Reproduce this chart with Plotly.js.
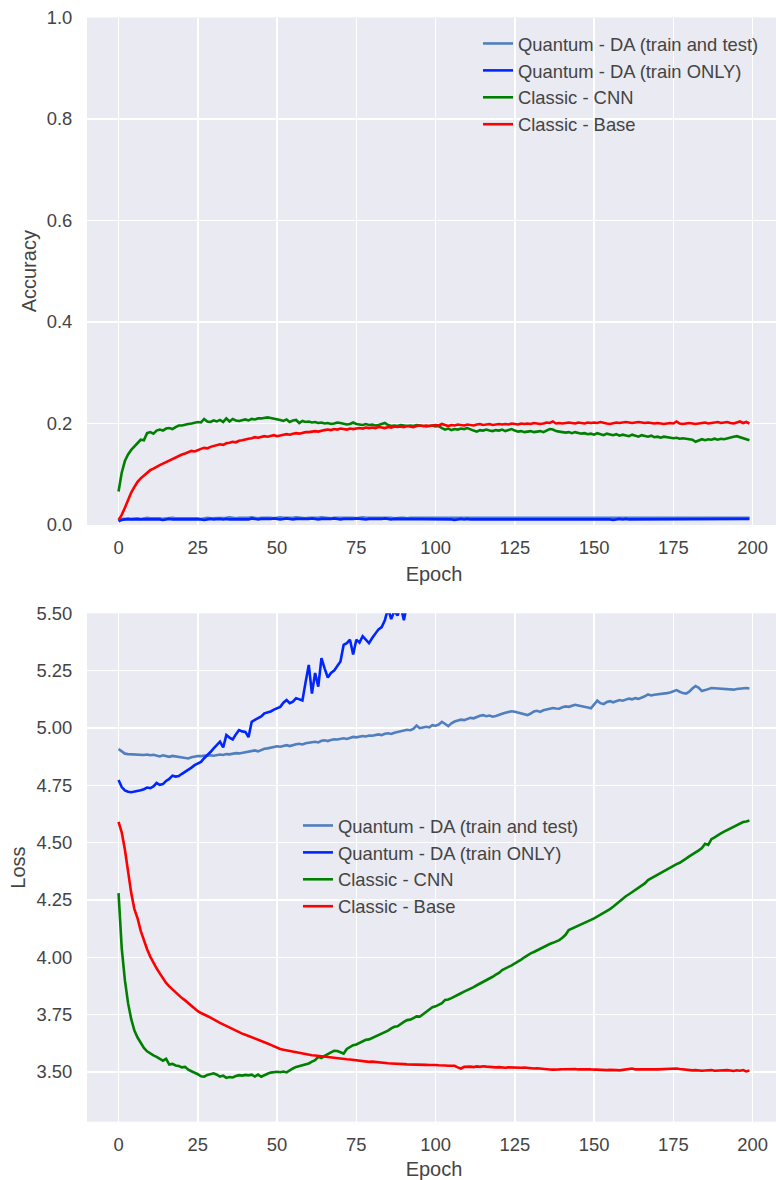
<!DOCTYPE html>
<html>
<head>
<meta charset="utf-8">
<script src="https://cdn.plot.ly/plotly-3.0.1.min.js"></script>
<style>
html,body{margin:0;padding:0;overflow:hidden;background:#fff;}
#chart{width:790px;height:1180px;}
</style>
</head>
<body>
<div id="chart"></div>
<script>
// ---------- DATA ----------
const seriesNames = ["Quantum - DA (train and test)", "Quantum - DA (train ONLY)", "Classic - CNN", "Classic - Base"];
const epochs = Array.from({length: 200}, (_, i) => i);

const accQuantumTrainTest = [
0.009,0.012,0.012,0.013,0.012,0.013,0.013,0.012,0.013,0.014,
0.013,0.013,0.014,0.013,0.012,0.013,0.014,0.014,0.013,0.013,
0.014,0.013,0.013,0.014,0.014,0.013,0.012,0.013,0.014,0.013,
0.013,0.014,0.013,0.013,0.014,0.015,0.014,0.013,0.014,0.014,
0.013,0.014,0.015,0.014,0.013,0.014,0.014,0.015,0.014,0.013,
0.014,0.015,0.014,0.014,0.013,0.014,0.015,0.014,0.014,0.013,
0.014,0.014,0.013,0.014,0.015,0.014,0.014,0.013,0.014,0.014,
0.015,0.014,0.014,0.015,0.014,0.013,0.014,0.015,0.014,0.014,
0.015,0.015,0.014,0.014,0.015,0.014,0.014,0.013,0.014,0.014,
0.014,0.013,0.014,0.014,0.013,0.014,0.014,0.013,0.014,0.013,
0.013,0.014,0.014,0.013,0.013,0.014,0.013,0.014,0.013,0.013,
0.014,0.013,0.013,0.014,0.013,0.013,0.014,0.013,0.013,0.014,
0.013,0.014,0.013,0.013,0.014,0.013,0.013,0.014,0.013,0.014,
0.013,0.013,0.014,0.014,0.013,0.013,0.014,0.013,0.014,0.013,
0.014,0.013,0.013,0.014,0.013,0.014,0.013,0.013,0.014,0.013,
0.013,0.014,0.013,0.014,0.013,0.013,0.014,0.013,0.013,0.014,
0.013,0.013,0.014,0.013,0.014,0.013,0.013,0.014,0.013,0.013,
0.014,0.013,0.014,0.013,0.013,0.014,0.013,0.014,0.013,0.013,
0.013,0.014,0.013,0.013,0.014,0.013,0.014,0.013,0.013,0.014,
0.013,0.014,0.013,0.014,0.013,0.013,0.014,0.013,0.014,0.014];

const accQuantumTrainOnly = [
0.007,0.010,0.011,0.011,0.012,0.011,0.012,0.011,0.012,0.011,
0.011,0.012,0.012,0.011,0.010,0.011,0.012,0.011,0.011,0.012,
0.011,0.012,0.011,0.011,0.012,0.012,0.011,0.010,0.011,0.012,
0.011,0.012,0.012,0.011,0.012,0.011,0.011,0.012,0.012,0.011,
0.012,0.011,0.013,0.012,0.011,0.012,0.012,0.011,0.012,0.013,
0.012,0.011,0.012,0.013,0.012,0.011,0.012,0.012,0.011,0.012,
0.012,0.013,0.012,0.011,0.012,0.012,0.011,0.012,0.013,0.012,
0.011,0.012,0.012,0.011,0.012,0.013,0.012,0.012,0.011,0.012,
0.012,0.011,0.012,0.012,0.013,0.012,0.011,0.012,0.012,0.011,
0.012,0.011,0.012,0.012,0.011,0.012,0.011,0.012,0.011,0.012,
0.011,0.012,0.012,0.011,0.012,0.011,0.010,0.011,0.012,0.011,
0.012,0.011,0.011,0.012,0.011,0.012,0.011,0.011,0.012,0.011,
0.011,0.012,0.011,0.012,0.011,0.011,0.012,0.011,0.012,0.011,
0.012,0.011,0.012,0.011,0.011,0.012,0.011,0.012,0.011,0.012,
0.011,0.012,0.011,0.011,0.012,0.011,0.011,0.012,0.011,0.012,
0.011,0.011,0.012,0.011,0.012,0.011,0.010,0.011,0.012,0.011,
0.012,0.011,0.011,0.012,0.011,0.012,0.011,0.011,0.012,0.012,
0.011,0.012,0.011,0.012,0.011,0.011,0.012,0.011,0.012,0.011,
0.012,0.011,0.011,0.012,0.011,0.012,0.011,0.011,0.012,0.011,
0.011,0.012,0.011,0.012,0.012,0.011,0.012,0.011,0.012,0.012];

const accCNN = [
0.066,0.103,0.126,0.139,0.148,0.154,0.161,0.168,0.167,0.181,
0.183,0.180,0.186,0.188,0.186,0.190,0.191,0.189,0.193,0.196,
0.196,0.198,0.199,0.200,0.201,0.203,0.202,0.209,0.204,0.203,
0.206,0.204,0.207,0.203,0.210,0.204,0.209,0.206,0.205,0.207,
0.208,0.206,0.209,0.208,0.210,0.210,0.211,0.212,0.211,0.210,
0.209,0.207,0.205,0.208,0.203,0.206,0.207,0.201,0.205,0.203,
0.204,0.202,0.203,0.201,0.202,0.200,0.201,0.199,0.200,0.202,
0.201,0.200,0.198,0.199,0.202,0.199,0.198,0.197,0.199,0.197,
0.198,0.196,0.197,0.199,0.201,0.197,0.195,0.196,0.195,0.197,
0.196,0.195,0.196,0.195,0.197,0.196,0.195,0.194,0.195,0.196,
0.194,0.195,0.191,0.188,0.190,0.187,0.189,0.188,0.190,0.189,
0.191,0.188,0.186,0.184,0.187,0.186,0.188,0.186,0.185,0.187,
0.186,0.188,0.185,0.187,0.189,0.186,0.184,0.185,0.183,0.184,
0.185,0.183,0.184,0.185,0.183,0.186,0.189,0.188,0.185,0.184,
0.183,0.182,0.183,0.181,0.183,0.182,0.180,0.181,0.179,0.180,
0.178,0.181,0.179,0.177,0.180,0.178,0.177,0.179,0.176,0.178,
0.177,0.175,0.178,0.176,0.174,0.177,0.175,0.174,0.176,0.173,
0.174,0.172,0.174,0.173,0.172,0.171,0.172,0.170,0.171,0.170,
0.169,0.168,0.164,0.166,0.169,0.167,0.169,0.168,0.170,0.168,
0.170,0.169,0.171,0.172,0.174,0.175,0.173,0.171,0.169,0.167];

const accBase = [
0.010,0.020,0.034,0.050,0.064,0.075,0.085,0.092,0.098,0.104,
0.108,0.111,0.115,0.118,0.121,0.124,0.128,0.130,0.134,0.137,
0.139,0.141,0.143,0.146,0.145,0.148,0.150,0.152,0.151,0.154,
0.156,0.157,0.159,0.158,0.161,0.162,0.164,0.163,0.166,0.167,
0.169,0.170,0.171,0.173,0.172,0.174,0.175,0.174,0.176,0.177,
0.175,0.177,0.178,0.179,0.178,0.180,0.181,0.180,0.182,0.183,
0.183,0.184,0.185,0.184,0.186,0.187,0.188,0.187,0.189,0.188,
0.190,0.189,0.188,0.190,0.189,0.190,0.191,0.190,0.192,0.191,
0.192,0.191,0.193,0.192,0.191,0.193,0.192,0.194,0.193,0.194,
0.193,0.195,0.194,0.193,0.195,0.196,0.195,0.196,0.195,0.196,
0.197,0.196,0.199,0.197,0.195,0.197,0.196,0.198,0.197,0.196,
0.198,0.197,0.196,0.198,0.199,0.197,0.198,0.199,0.197,0.198,
0.199,0.198,0.199,0.198,0.200,0.199,0.198,0.200,0.199,0.200,
0.199,0.201,0.200,0.199,0.200,0.202,0.201,0.204,0.200,0.201,
0.200,0.201,0.202,0.201,0.200,0.202,0.201,0.200,0.202,0.201,
0.202,0.201,0.203,0.201,0.200,0.199,0.200,0.202,0.201,0.202,
0.203,0.202,0.201,0.202,0.203,0.202,0.201,0.202,0.201,0.200,
0.201,0.200,0.199,0.200,0.201,0.200,0.204,0.200,0.199,0.200,
0.201,0.200,0.199,0.200,0.201,0.202,0.200,0.201,0.202,0.203,
0.201,0.202,0.203,0.201,0.200,0.202,0.204,0.201,0.203,0.200];

const lossQuantumTrainTest = [
4.908,4.897,4.888,4.886,4.885,4.884,4.886,4.883,4.882,4.884,
4.881,4.883,4.880,4.876,4.881,4.878,4.874,4.878,4.876,4.873,
4.874,4.870,4.867,4.872,4.876,4.878,4.877,4.880,4.879,4.881,
4.879,4.883,4.884,4.882,4.886,4.885,4.888,4.890,4.889,4.892,
4.895,4.897,4.900,4.902,4.898,4.905,4.909,4.911,4.913,4.916,
4.920,4.918,4.922,4.925,4.921,4.926,4.929,4.931,4.928,4.933,
4.936,4.938,4.940,4.937,4.944,4.946,4.943,4.948,4.951,4.950,
4.953,4.955,4.952,4.957,4.961,4.959,4.962,4.965,4.963,4.967,
4.966,4.970,4.972,4.969,4.975,4.977,4.974,4.979,4.983,4.986,
4.988,4.992,4.990,4.996,5.011,4.999,5.002,5.005,5.003,5.012,
5.010,5.015,5.027,5.016,5.008,5.020,5.028,5.032,5.036,5.034,
5.038,5.044,5.042,5.048,5.053,5.056,5.051,5.054,5.049,5.052,
5.058,5.062,5.066,5.070,5.073,5.071,5.068,5.064,5.059,5.056,
5.063,5.072,5.075,5.070,5.077,5.080,5.083,5.087,5.085,5.084,
5.090,5.094,5.092,5.097,5.101,5.098,5.094,5.093,5.089,5.086,
5.103,5.119,5.108,5.104,5.113,5.117,5.112,5.118,5.122,5.119,
5.124,5.128,5.125,5.130,5.127,5.132,5.138,5.146,5.142,5.145,
5.146,5.149,5.150,5.152,5.155,5.160,5.165,5.158,5.152,5.150,
5.158,5.172,5.183,5.175,5.161,5.165,5.171,5.174,5.173,5.172,
5.172,5.170,5.172,5.168,5.167,5.170,5.172,5.171,5.174,5.172];

// leaves the visible range (above 5.5) after about epoch 92
const lossQuantumTrainOnly = [
4.773,4.742,4.728,4.722,4.720,4.722,4.725,4.728,4.733,4.740,
4.738,4.745,4.760,4.752,4.755,4.769,4.778,4.792,4.788,4.790,
4.800,4.809,4.815,4.827,4.838,4.845,4.852,4.868,4.880,4.895,
4.911,4.925,4.940,4.915,4.969,4.958,4.950,4.972,4.991,4.985,
4.983,4.960,5.027,5.035,5.042,5.050,5.064,5.068,5.072,5.080,
5.086,5.092,5.110,5.122,5.108,5.115,5.130,5.125,5.120,5.200,
5.275,5.150,5.240,5.180,5.304,5.260,5.220,5.240,5.250,5.270,
5.290,5.362,5.370,5.385,5.320,5.385,5.372,5.400,5.385,5.370,
5.392,5.410,5.430,5.440,5.470,5.520,5.475,5.510,5.490,5.530,
5.470,5.540,5.600];

const lossCNN = [
4.280,4.040,3.900,3.800,3.730,3.680,3.650,3.625,3.605,3.590,
3.580,3.572,3.566,3.558,3.549,3.557,3.532,3.535,3.528,3.526,
3.520,3.522,3.510,3.503,3.498,3.490,3.481,3.479,3.487,3.492,
3.494,3.488,3.480,3.484,3.474,3.478,3.476,3.482,3.486,3.484,
3.487,3.485,3.488,3.480,3.489,3.479,3.487,3.492,3.497,3.500,
3.501,3.499,3.502,3.498,3.508,3.515,3.522,3.526,3.530,3.534,
3.537,3.545,3.551,3.566,3.561,3.570,3.579,3.585,3.592,3.591,
3.586,3.580,3.600,3.610,3.617,3.620,3.626,3.633,3.640,3.642,
3.648,3.655,3.661,3.665,3.672,3.680,3.690,3.697,3.699,3.710,
3.718,3.726,3.728,3.735,3.742,3.741,3.752,3.760,3.770,3.782,
3.786,3.792,3.800,3.814,3.816,3.822,3.828,3.836,3.843,3.850,
3.856,3.863,3.870,3.878,3.885,3.893,3.899,3.905,3.915,3.924,
3.932,3.944,3.950,3.956,3.965,3.973,3.980,3.990,4.000,4.010,
4.017,4.023,4.030,4.038,4.046,4.053,4.058,4.063,4.068,4.075,
4.085,4.098,4.119,4.125,4.130,4.136,4.142,4.150,4.157,4.163,
4.170,4.178,4.186,4.193,4.200,4.210,4.220,4.232,4.245,4.255,
4.266,4.275,4.284,4.292,4.301,4.312,4.322,4.337,4.345,4.352,
4.360,4.368,4.376,4.384,4.392,4.400,4.406,4.412,4.420,4.430,
4.440,4.448,4.458,4.466,4.476,4.495,4.490,4.515,4.523,4.530,
4.540,4.548,4.555,4.560,4.568,4.575,4.583,4.590,4.592,4.596];

const lossBase = [
4.590,4.545,4.470,4.370,4.280,4.210,4.170,4.115,4.070,4.035,
4.003,3.975,3.952,3.930,3.908,3.888,3.873,3.860,3.846,3.834,
3.822,3.812,3.800,3.790,3.778,3.765,3.757,3.752,3.744,3.737,
3.731,3.722,3.714,3.707,3.700,3.692,3.685,3.680,3.674,3.667,
3.662,3.657,3.650,3.645,3.640,3.634,3.630,3.624,3.618,3.612,
3.605,3.600,3.597,3.594,3.591,3.588,3.586,3.584,3.581,3.578,
3.576,3.573,3.572,3.570,3.569,3.566,3.564,3.563,3.561,3.560,
3.558,3.557,3.555,3.554,3.552,3.550,3.548,3.546,3.545,3.544,
3.545,3.543,3.541,3.541,3.539,3.538,3.537,3.537,3.535,3.536,
3.534,3.533,3.533,3.532,3.531,3.534,3.532,3.531,3.530,3.531,
3.530,3.529,3.530,3.528,3.527,3.528,3.527,3.520,3.515,3.522,
3.524,3.523,3.521,3.524,3.522,3.525,3.523,3.521,3.522,3.520,
3.521,3.519,3.518,3.520,3.519,3.518,3.517,3.518,3.519,3.517,
3.516,3.515,3.516,3.514,3.515,3.512,3.511,3.510,3.512,3.511,
3.512,3.513,3.511,3.512,3.513,3.511,3.512,3.514,3.512,3.511,
3.510,3.511,3.509,3.510,3.508,3.509,3.507,3.508,3.507,3.509,
3.510,3.511,3.515,3.511,3.512,3.510,3.512,3.511,3.513,3.512,
3.511,3.512,3.513,3.512,3.514,3.513,3.515,3.513,3.511,3.510,
3.508,3.507,3.508,3.506,3.505,3.506,3.507,3.508,3.505,3.506,
3.507,3.505,3.508,3.506,3.504,3.507,3.505,3.508,3.502,3.506];

const xTicks = [0, 25, 50, 75, 100, 125, 150, 175, 200];
const accTicks = [0.0, 0.2, 0.4, 0.6, 0.8, 1.0];
const lossTicks = [3.50, 3.75, 4.00, 4.25, 4.50, 4.75, 5.00, 5.25, 5.50];
const colors = ["#4f7fbf", "#0026ff", "#008000", "#ff0000"];

// ---------- TRACES ----------
const accSeries = [accQuantumTrainTest, accQuantumTrainOnly, accCNN, accBase];
const lossSeries = [lossQuantumTrainTest, lossQuantumTrainOnly, lossCNN, lossBase];
const traces = [];
accSeries.forEach((ys, i) => {
  traces.push({x: epochs.slice(0, ys.length), y: ys, type: "scatter", mode: "lines",
    name: seriesNames[i], line: {color: colors[i], width: 2.6}, xaxis: "x", yaxis: "y", legend: "legend"});
});
lossSeries.forEach((ys, i) => {
  traces.push({x: epochs.slice(0, ys.length), y: ys, type: "scatter", mode: "lines",
    name: seriesNames[i], line: {color: colors[i], width: 2.6}, xaxis: "x2", yaxis: "y2", legend: "legend2"});
});

const W = 790, H = 1180, L = 87, R = 9;
const tickFont = {family: "Liberation Sans, Arial, sans-serif", size: 18.4, color: "#444"};
const titleFont = {family: "Liberation Sans, Arial, sans-serif", size: 20, color: "#444"};
function xAxis(anchor) {
  return {anchor: anchor, range: [-9.95, 208.95], tickvals: xTicks, ticktext: xTicks.map(String),
    showgrid: true, gridcolor: "#ffffff", gridwidth: 1.5, zeroline: false, showline: false,
    ticks: "outside", ticklen: 6, tickcolor: "rgba(0,0,0,0)", tickfont: tickFont,
    title: {text: "Epoch", font: titleFont, standoff: 9}};
}
const layout = {
  width: W, height: H,
  margin: {l: L, r: R, t: 0, b: 0},
  paper_bgcolor: "#ffffff", plot_bgcolor: "#eaeaf2",
  font: {family: "Liberation Sans, Arial, sans-serif", color: "#444"},
  xaxis: xAxis("y"),
  xaxis2: xAxis("y2"),
  yaxis: {domain: [1 - 525/H, 1 - 17.5/H], range: [0, 1], tickvals: accTicks, ticktext: accTicks.map(v => v.toFixed(1)),
    showgrid: true, gridcolor: "#ffffff", gridwidth: 1.5, zeroline: false, showline: false,
    ticks: "outside", ticklen: 10, tickcolor: "rgba(0,0,0,0)", tickfont: tickFont,
    title: {text: "Accuracy", font: titleFont, standoff: 4}},
  yaxis2: {domain: [1 - 1121.7/H, 1 - 613.3/H], range: [3.283, 5.5], tickvals: lossTicks, ticktext: lossTicks.map(v => v.toFixed(2)),
    showgrid: true, gridcolor: "#ffffff", gridwidth: 1.5, zeroline: false, showline: false,
    ticks: "outside", ticklen: 10, tickcolor: "rgba(0,0,0,0)", tickfont: tickFont,
    title: {text: "Loss", font: titleFont, standoff: 5}},
  legend: {x: (478 - L)/(W - L - R), y: 1 - 25/H, xanchor: "left", yanchor: "top",
    bgcolor: "rgba(0,0,0,0)", borderwidth: 0, font: tickFont, traceorder: "normal"},
  legend2: {x: (298 - L)/(W - L - R), y: 1 - 807/H, xanchor: "left", yanchor: "top",
    bgcolor: "rgba(0,0,0,0)", borderwidth: 0, font: tickFont, traceorder: "normal"},
  showlegend: true
};
Plotly.newPlot("chart", traces, layout, {staticPlot: true, displayModeBar: false});
</script>
</body>
</html>
